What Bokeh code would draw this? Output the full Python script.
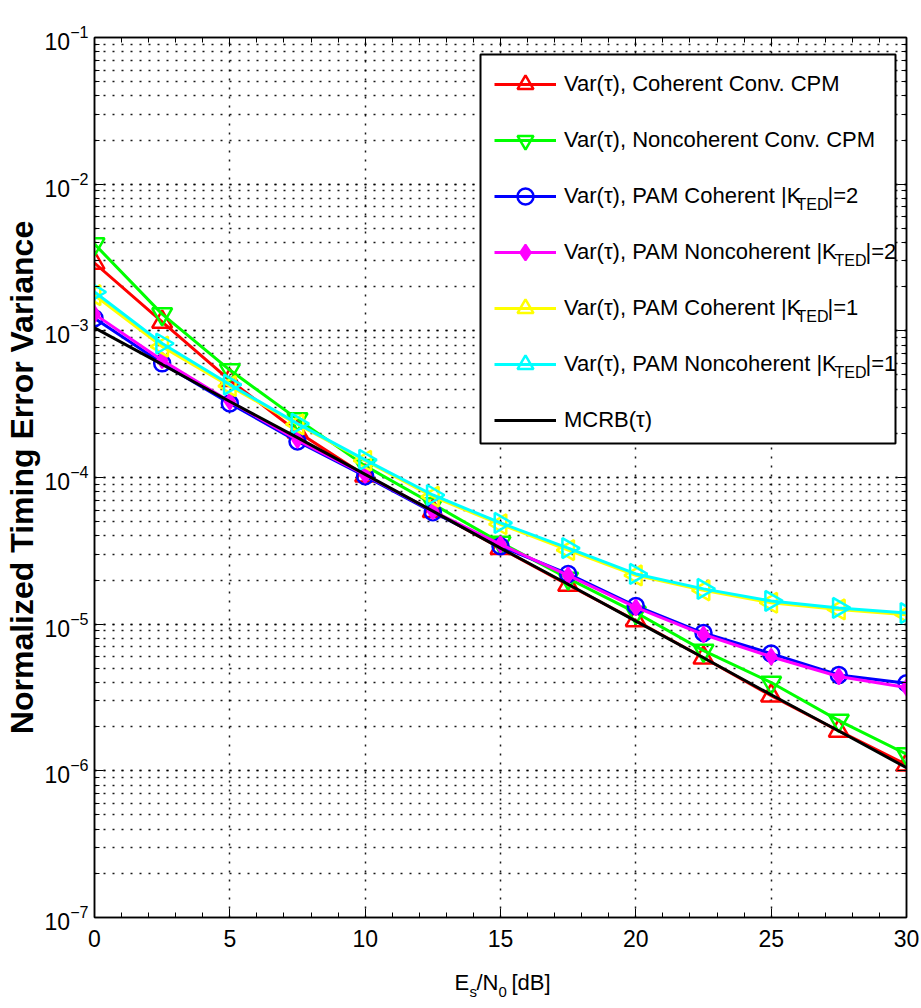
import math
from bokeh.plotting import figure
from bokeh.layouts import column
from bokeh.models import (FixedTicker, LogAxis, LinearAxis, Label, Legend, LegendItem,
                          CustomJSTickFormatter, BoxAnnotation)
from bokeh.embed import file_html
from bokeh.resources import INLINE

# ---------------- data ----------------
snr_db = [0, 2.5, 5, 7.5, 10, 12.5, 15, 17.5, 20, 22.5, 25, 27.5, 30]
coh_conv = [2.9e-3, 1.15e-3, 4.6e-4, 2.05e-4, 1.03e-4, 5.9e-5, 3.3e-5, 1.85e-5, 1.06e-5, 5.9e-6, 3.25e-6, 1.87e-6, 1.1e-6]
noncoh_conv = [3.9e-3, 1.3e-3, 5.4e-4, 2.5e-4, 1.2e-4, 6.6e-5, 3.6e-5, 2.05e-5, 1.2e-5, 6.6e-6, 4.0e-6, 2.2e-6, 1.3e-6]
pam_coh_k2 = [1.22e-3, 6.0e-4, 3.2e-4, 1.76e-4, 1.02e-4, 5.8e-5, 3.4e-5, 2.2e-5, 1.33e-5, 8.7e-6, 6.3e-6, 4.5e-6, 3.95e-6]
pam_noncoh_k2 = [1.3e-3, 6.3e-4, 3.3e-4, 1.8e-4, 1.04e-4, 5.9e-5, 3.5e-5, 2.15e-5, 1.3e-5, 8.5e-6, 6.0e-6, 4.4e-6, 3.7e-6]
pam_coh_k1 = [1.75e-3, 7.8e-4, 4.2e-4, 2.3e-4, 1.3e-4, 7.4e-5, 4.8e-5, 3.2e-5, 2.15e-5, 1.7e-5, 1.4e-5, 1.26e-5, 1.16e-5]
pam_noncoh_k1 = [1.84e-3, 8.2e-4, 4.3e-4, 2.33e-4, 1.32e-4, 7.6e-5, 4.9e-5, 3.3e-5, 2.2e-5, 1.74e-5, 1.44e-5, 1.29e-5, 1.19e-5]
mcrb = [1.05e-3, 5.9e-4, 3.3e-4, 1.87e-4, 1.05e-4, 5.9e-5, 3.3e-5, 1.87e-5, 1.05e-5, 5.9e-6, 3.3e-6, 1.87e-6, 1.05e-6]

x_major = [0, 5, 10, 15, 20, 25, 30]
x_minor = list(range(0, 31))
y_major = [1e-7, 1e-6, 1e-5, 1e-4, 1e-3, 1e-2, 1e-1]
y_minor = [m * d for d in y_major[:-1] for m in range(1, 10)] + [1e-1]

SANS = "Liberation Sans"

# frame geometry (screen px) used to place annotation texts
FL, FR, FT, FB = 94, 906, 37, 917
MAIN_H = 955

def to_x(px):
    return (px - FL) * 30.0 / (FR - FL)

def to_y(py):
    return 10 ** (-7 + (FB - py) * 6.0 / (FB - FT))

p = figure(width=921, height=MAIN_H, x_range=(0, 30), y_range=(1e-7, 1e-1),
           y_axis_type="log", output_backend="svg", toolbar_location=None,
           min_border_left=FL, min_border_right=921 - FR, min_border_top=FT,
           min_border_bottom=MAIN_H - FB)
p.outline_line_color = "black"
p.outline_line_width = 1.5
p.background_fill_color = "white"

xt = FixedTicker(ticks=x_major, minor_ticks=x_minor)
yt = FixedTicker(ticks=y_major, minor_ticks=y_minor)

def style_axis(ax, ticker):
    ax.ticker = ticker
    ax.axis_line_color = "black"
    ax.axis_line_width = 1.5
    ax.major_tick_in = 9
    ax.major_tick_out = 0
    ax.minor_tick_in = 5
    ax.minor_tick_out = 0
    ax.major_tick_line_color = "black"
    ax.minor_tick_line_color = "black"
    ax.major_label_text_font = SANS
    ax.major_label_text_font_size = "23px"
    ax.major_label_text_color = "black"

style_axis(p.xaxis[0], xt)
style_axis(p.yaxis[0], yt)
p.xaxis[0].major_label_standoff = 12
p.yaxis[0].major_label_standoff = 6
p.yaxis[0].axis_label = "Normalized Timing Error Variance"
p.yaxis[0].axis_label_text_font = SANS
p.yaxis[0].axis_label_text_font_size = "32px"
p.yaxis[0].axis_label_text_font_style = "bold"
p.yaxis[0].axis_label_text_color = "black"
p.yaxis[0].axis_label_standoff = 2

top_ax = LinearAxis()
right_ax = LogAxis()
style_axis(top_ax, xt)
style_axis(right_ax, yt)
blank = CustomJSTickFormatter(code="return ''")
top_ax.formatter = blank
right_ax.formatter = blank
top_ax.major_label_text_font_size = "1px"
right_ax.major_label_text_font_size = "1px"
p.add_layout(top_ax, "above")
p.add_layout(right_ax, "right")

p.xgrid.ticker = xt
p.ygrid.ticker = yt
for g in (p.xgrid[0], p.ygrid[0]):
    g.grid_line_color = "black"
    g.grid_line_width = 1.5
    g.grid_line_dash = "2 7"
    g.grid_line_alpha = 0.9
p.ygrid[0].minor_grid_line_color = "black"
p.ygrid[0].minor_grid_line_width = 1.5
p.ygrid[0].minor_grid_line_dash = "2 7"
p.ygrid[0].minor_grid_line_alpha = 0.9

LW = 3
MS = 20
r_line = p.line(snr_db, coh_conv, line_color="#ff0000", line_width=LW)
r_mk = p.scatter(snr_db, coh_conv, marker="triangle", size=MS, line_color="#ff0000",
                 fill_color=None, line_width=2.5)
g_line = p.line(snr_db, noncoh_conv, line_color="#00ff00", line_width=LW)
g_mk = p.scatter(snr_db, noncoh_conv, marker="inverted_triangle", size=MS, line_color="#00ff00",
                 fill_color=None, line_width=2.5)
b_line = p.line(snr_db, pam_coh_k2, line_color="#0000ff", line_width=LW)
b_mk = p.scatter(snr_db, pam_coh_k2, marker="circle", size=16, line_color="#0000ff",
                 fill_color=None, line_width=2.5)
m_line = p.line(snr_db, pam_noncoh_k2, line_color="#ff00ff", line_width=LW)
m_mk = p.scatter(snr_db, pam_noncoh_k2, marker="diamond", size=16, line_color="#ff00ff",
                 fill_color="#ff00ff", line_width=2)
y_line = p.line(snr_db, pam_coh_k1, line_color="#ffff00", line_width=LW)
y_mk = p.scatter(snr_db, pam_coh_k1, marker="triangle", angle=math.pi / 2, size=MS,
                 line_color="#ffff00", fill_color=None, line_width=2.5)
c_line = p.line(snr_db, pam_noncoh_k1, line_color="#00ffff", line_width=LW)
c_mk = p.scatter(snr_db, pam_noncoh_k1, marker="triangle", angle=-math.pi / 2, size=MS,
                 line_color="#00ffff", fill_color=None, line_width=2.5)
k_line = p.line(snr_db, mcrb, line_color="black", line_width=LW)

# white legend box (drawn beneath the legend entries and their subscripts)
p.add_layout(BoxAnnotation(left=to_x(480), right=to_x(895), top=to_y(54), bottom=to_y(443),
                           fill_color="white", fill_alpha=1.0, line_color="black",
                           line_width=2, line_alpha=1.0))

labels = ["Var(τ), Coherent Conv. CPM",
          "Var(τ), Noncoherent Conv. CPM",
          "Var(τ), PAM Coherent |K",
          "Var(τ), PAM Noncoherent |K",
          "Var(τ), PAM Coherent |K",
          "Var(τ), PAM Noncoherent |K",
          "MCRB(τ)"]
rends = [[r_line, r_mk], [g_line, g_mk], [b_line, b_mk], [m_line, m_mk],
         [y_line, y_mk], [c_line, c_mk], [k_line]]
legend = Legend(items=[LegendItem(label=l, renderers=r) for l, r in zip(labels, rends)],
                location=(494 - FL, FB - 440), label_text_font=SANS,
                label_text_font_size="22px", label_text_color="black",
                glyph_width=62, glyph_height=40, label_height=40, spacing=16,
                padding=6, margin=0, label_standoff=8, label_width=322,
                border_line_color=None, background_fill_alpha=0)
p.add_layout(legend)

# subscript parts of the legend texts
text_px = 563
sub_rows = [(2, 233, "=2"), (3, 271, "=2"), (4, 233, "=1"), (5, 271, "=1")]
for row, w1, tail in sub_rows:
    rowc = 83 + 56 * row
    p.add_layout(Label(x=to_x(text_px + w1), y=to_y(rowc + 9),
                       text="TED", text_font=SANS, text_font_size="16px",
                       text_baseline="middle", text_align="left", text_color="black"))
    p.add_layout(Label(x=to_x(text_px + w1 + 31), y=to_y(rowc),
                       text="|" + tail, text_font=SANS, text_font_size="22px",
                       text_baseline="middle", text_align="left", text_color="black"))

# strip below the plot holding the x axis label with subscripts
# (its frame is aligned with the main frame, so x data units = page pixels)
BOT_H = 1008 - MAIN_H
q = figure(width=921, height=BOT_H, x_range=(FL, FR), y_range=(0, BOT_H),
           output_backend="svg", toolbar_location=None,
           x_axis_location=None, y_axis_location=None, min_border=0)
q.outline_line_color = None
q.grid.visible = False
xl = [("E", 454, 0, "22px"), ("s", 469, 9, "15px"), ("/N", 476, 0, "22px"),
      ("0", 498, 9, "15px"), ("[dB]", 511, 0, "22px")]
for t, px, dy, fs in xl:
    q.add_layout(Label(x=px, y=1008 - (982 + dy),
                       text=t, text_font=SANS, text_font_size=fs,
                       text_baseline="middle", text_align="left", text_color="black"))

layout = column(p, q, spacing=0)
open("out.html", "w").write(file_html(layout, INLINE))
